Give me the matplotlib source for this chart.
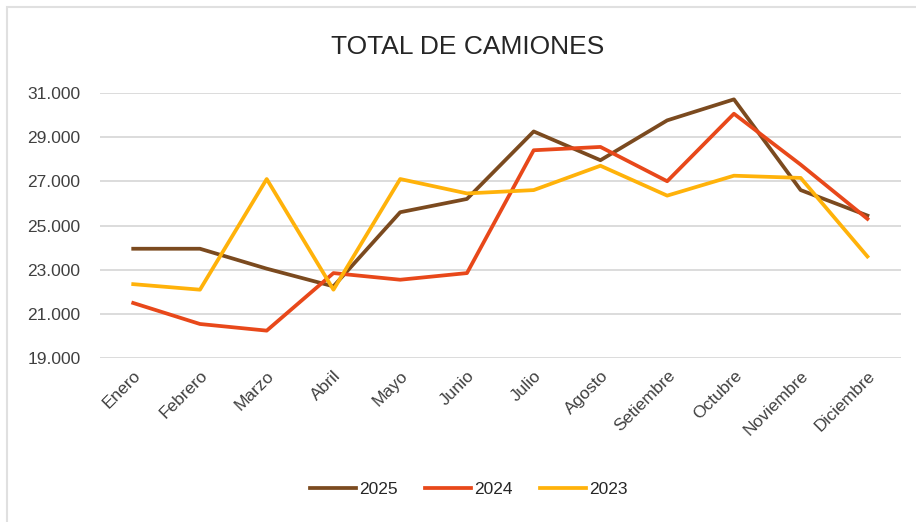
import numpy as np
import matplotlib.pyplot as plt
from matplotlib.patches import Rectangle
from matplotlib.ticker import FuncFormatter

# * Data
meses = ["Enero", "Febrero", "Marzo", "Abril", "Mayo", "Junio", "Julio",
         "Agosto", "Setiembre", "Octubre", "Noviembre", "Diciembre"]
v2025 = [23950, 23950, 23050, 22250, 25600, 26200, 29250, 27950, 29750, 30700, 26600, 25450]
v2024 = [21500, 20550, 20250, 22850, 22550, 22850, 28400, 28550, 27000, 30050, 27750, 25300]
v2023 = [22350, 22100, 27100, 22100, 27100, 26450, 26600, 27700, 26350, 27250, 27150, 23600]
series = [("2025", v2025, "#7B4A1F"), ("2024", v2024, "#E8481A"), ("2023", v2023, "#FFB20A")]

plt.rcParams["font.family"] = "Liberation Sans"

# * Figure
fig = plt.figure(figsize=(9.16, 5.22), dpi=100)
ax = fig.add_axes([0.109, 0.3136, 0.8744, 0.5088])

x = np.arange(len(meses))
for name, vals, col in series:
    ax.plot(x, vals, color=col, lw=2.7, label=name)

ax.set_xlim(-0.5, 11.5)
ax.set_ylim(19000, 31000)
ax.set_yticks(np.arange(19000, 31001, 2000))
ax.yaxis.set_major_formatter(FuncFormatter(lambda v, p: f"{int(v):,}".replace(",", ".")))
ax.grid(axis="y", color="#D9D9D9", lw=1.3)
ax.set_axisbelow(True)
for s in ax.spines.values():
    s.set_visible(False)
ax.tick_params(axis="both", length=0, colors="#404040", labelsize=12.5)
ax.tick_params(axis="y", pad=14)
ax.tick_params(axis="x", pad=7)
ax.set_xticks(x)
ax.set_xticklabels(meses, rotation=45, ha="right", va="top", rotation_mode="anchor")

fig.text(0.51, 0.91, "TOTAL DE CAMIONES", ha="center", va="center", fontsize=19,
         color="#262626")

leg = fig.legend(loc="center", bbox_to_anchor=(0.512, 0.062), ncol=3, frameon=False,
                 handlelength=2.6, handletextpad=0.2, columnspacing=1.6,
                 prop={"size": 12.5})
for t in leg.get_texts():
    t.set_color("#262626")

# chart border (cropped on right and bottom)
fig.patches.append(Rectangle((7 / 916, -0.1), 1.2, 1 - 7 / 522 + 0.1, transform=fig.transFigure,
                             fill=False, edgecolor="#E0E0E0", lw=1.5))

fig.savefig("out.png", dpi=100)
